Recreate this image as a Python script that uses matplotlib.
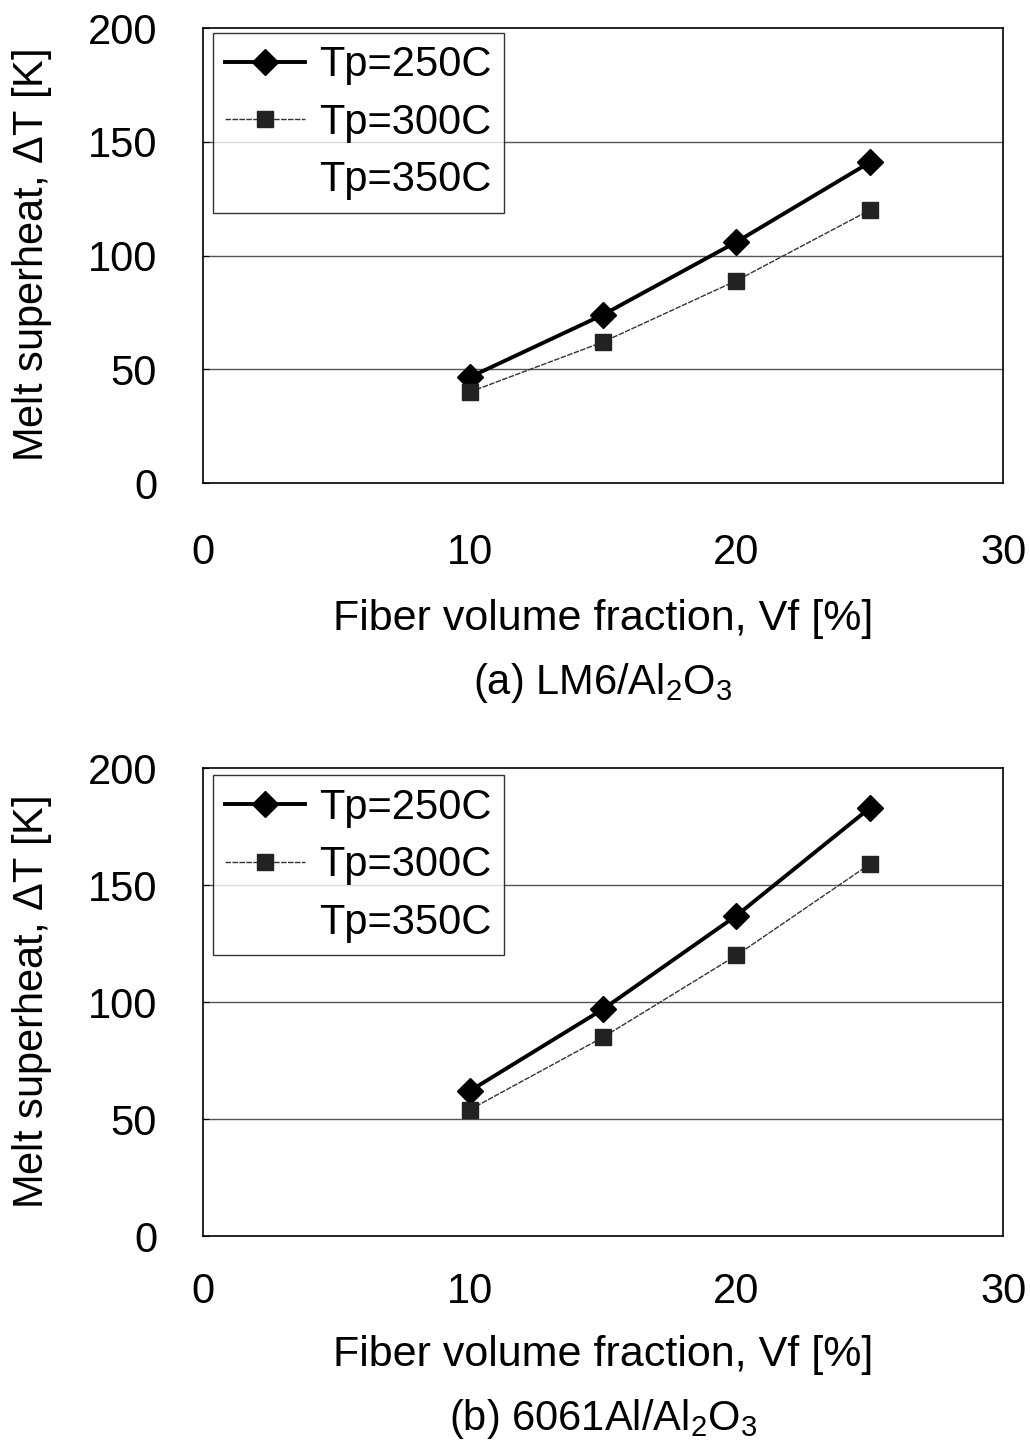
import matplotlib
matplotlib.use('Agg')
import matplotlib.pyplot as plt

plt.rcParams['font.family'] = ['Liberation Sans', 'DejaVu Sans']
plt.rcParams['mathtext.fontset'] = 'custom'
plt.rcParams['mathtext.rm'] = 'Liberation Sans'

# data
vf = [10, 15, 20, 25]
lm6_250 = [46.5, 74, 106, 141]
lm6_300 = [40, 62, 89, 120]
al6061_250 = [62, 97, 137, 183]
al6061_300 = [54, 85, 120, 159]

x_ticks = [0, 10, 20, 30]
y_ticks = [0, 50, 100, 150, 200]
labels = ['Tp=250C', 'Tp=300C', 'Tp=350C']
captions = ['(a) LM6/Al$_2$O$_3$', '(b) 6061Al/Al$_2$O$_3$']

fig = plt.figure(figsize=(10.3, 14.44), dpi=100)
ax1 = fig.add_axes([0.197, 0.6655, 0.777, 0.315])
ax2 = fig.add_axes([0.197, 0.144, 0.777, 0.324])

# (axes, series 250, series 300, caption, x tick pad, xlabel y, caption y, legend top)
panels = [(ax1, lm6_250, lm6_300, captions[0], 36, -0.30, -0.44, 0.99),
          (ax2, al6061_250, al6061_300, captions[1], 26, -0.255, -0.39, 0.985)]

for ax, s250, s300, cap, xpad, xl_y, cap_y, leg_top in panels:
    for y in [50, 100, 150]:
        ax.axhline(y, color='#555555', lw=1.0, zorder=1)
    ax.plot(vf, s250, color='black', lw=2.8, marker='D', ms=13,
            label=labels[0], zorder=3)
    ax.plot(vf, s300, color='#333333', lw=1.0, ls=(0, (4, 1)), marker='s',
            ms=12, mfc='#222222', mec='#222222', label=labels[1], zorder=3)
    ax.plot([], [], ls='none', label=labels[2])

    ax.set_xlim(0, 30)
    ax.set_ylim(0, 200)
    ax.set_xticks(x_ticks)
    ax.set_yticks(y_ticks)
    ax.tick_params(axis='both', labelsize=30, direction='in', length=4, width=0.8)
    ax.tick_params(axis='x', pad=xpad, length=0)
    ax.tick_params(axis='y', pad=33)
    for sp in ax.spines.values():
        sp.set_linewidth(1.2)

    ax.set_xlabel('Fiber volume fraction, Vf [%]', fontsize=31, va='center')
    ax.xaxis.set_label_coords(0.5, xl_y)
    ax.set_ylabel('Melt superheat, $\\Delta$T [K]', fontsize=30, va='center')
    ax.yaxis.set_label_coords(-0.214, 0.5)
    ax.text(0.5, cap_y, cap, transform=ax.transAxes, ha='center', va='center',
            fontsize=30)

    leg = ax.legend(loc='upper left', bbox_to_anchor=(0.0125, leg_top),
                    borderaxespad=0, fontsize=30, frameon=True, fancybox=False,
                    edgecolor='black', handlelength=1.9, handletextpad=0.35,
                    labelspacing=0.42, borderpad=0.3)
    leg.get_frame().set_linewidth(1.0)

plt.savefig('out.png', dpi=100)
